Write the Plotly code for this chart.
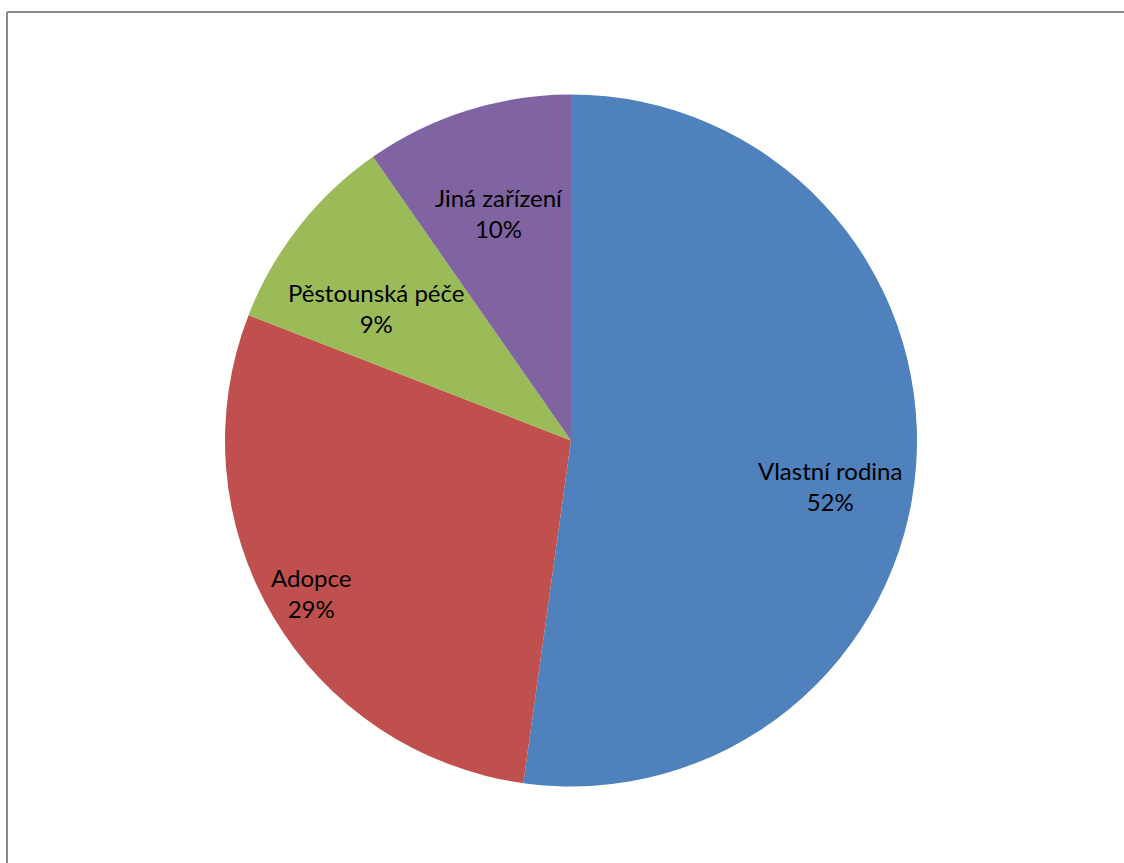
import math
import plotly.graph_objects as go

categories = ["Vlastní rodina", "Adopce", "Pěstounská péče", "Jiná zařízení"]
values = [52.2, 28.7, 9.4, 9.7]
colors = ["#4F81BD", "#C0504D", "#9BBB59", "#8064A2"]

W, H = 1124, 863
cx, cy, r = 571, 440.5, 346
# label placement (fraction of radius, angular offset in degrees) - layout only
label_r = [0.76, 0.87, 0.68, 0.69]
label_dang = [6, 0, -4, 0]

fig = go.Figure(go.Pie(
    labels=categories,
    values=values,
    sort=False,
    direction="clockwise",
    rotation=0,
    marker=dict(colors=colors, line=dict(width=0)),
    textinfo="none",
    showlegend=False,
    hoverinfo="skip",
    domain=dict(x=[(cx - r) / W, (cx + r) / W], y=[1 - (cy + r) / H, 1 - (cy - r) / H]),
))

total = sum(values)
annotations = []
cum = 0.0
for i, (lab, v) in enumerate(zip(categories, values)):
    mid = (cum + v / 2) / total * 360 + label_dang[i]
    cum += v
    a = math.radians(mid)
    px = cx + label_r[i] * r * math.sin(a)
    py = cy - label_r[i] * r * math.cos(a)
    annotations.append(dict(
        x=px / W, y=1 - py / H, xref="paper", yref="paper",
        text=f"{lab}<br>{round(v / total * 100)}%",
        showarrow=False, xanchor="center", yanchor="middle", align="center",
        font=dict(family="Lato, Noto Sans, sans-serif", size=24, color="black"),
    ))

fig.update_layout(
    width=W, height=H,
    margin=dict(l=0, r=0, t=0, b=0),
    paper_bgcolor="white",
    annotations=annotations,
    shapes=[
        dict(type="line", xref="paper", yref="paper", x0=7 / W, x1=1, y0=1 - 12 / H, y1=1 - 12 / H,
             line=dict(color="#888888", width=2)),
        dict(type="line", xref="paper", yref="paper", x0=7 / W, x1=7 / W, y0=0, y1=1 - 12 / H,
             line=dict(color="#888888", width=2)),
    ],
)

fig.write_html("out.html", config={"displayModeBar": False},
               post_script="document.body.style.margin='0';")
